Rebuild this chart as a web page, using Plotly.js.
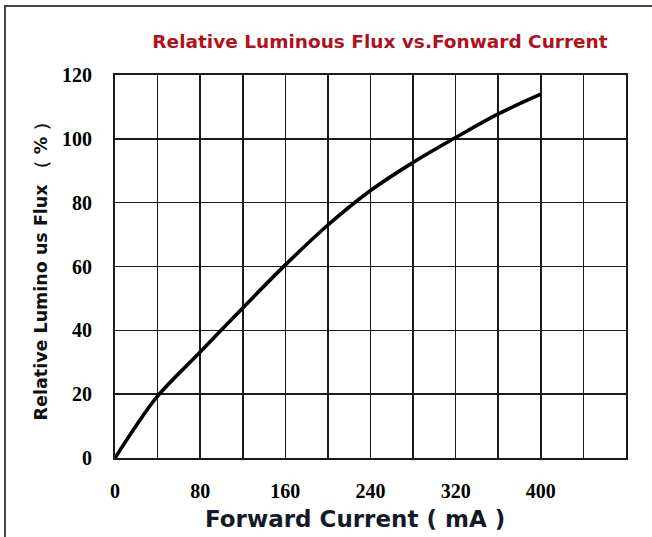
<!DOCTYPE html>
<html>
<head>
<meta charset="utf-8">
<script src="https://cdn.plot.ly/plotly-3.0.1.min.js"></script>
<style>
  html, body { margin: 0; padding: 0; background: #fff; }
  #wrap { position: relative; width: 652px; height: 537px; overflow: hidden; }
  #chart { width: 652px; height: 537px; }
  #frame { position: absolute; left: 4px; top: 5px; width: 700px; height: 600px;
           border-left: 2px solid #444; border-top: 2px solid #444; pointer-events: none; }
</style>
</head>
<body>
<div id="wrap">
  <div id="chart"></div>
  <div id="frame"></div>
</div>
<script>
// Forward current (mA)
var current = [0, 20, 40, 80, 120, 160, 200, 240, 280, 320, 360, 400];
// Relative luminous flux (%)
var flux = [0, 10.2, 19.4, 33.2, 47, 60.5, 73, 83.8, 92.6, 100.4, 107.8, 114];

var xTickVals = [0, 40, 80, 120, 160, 200, 240, 280, 320, 360, 400, 440, 480];
var xTickText = ['0', '', '80', '', '160', '', '240', '', '320', '', '400', '', ''];
var yTickVals = [0, 20, 40, 60, 80, 100, 120];

var trace = {
  x: current,
  y: flux,
  type: 'scatter',
  mode: 'lines',
  line: { color: '#000', width: 3.6, shape: 'spline', smoothing: 1.1 },
  hoverinfo: 'skip'
};

var tickFont = { family: 'Liberation Serif, Times New Roman, serif', size: 20, color: '#000', weight: 'bold' };

var layout = {
  width: 652,
  height: 537,
  margin: { l: 115, r: 26, t: 75, b: 79 },
  paper_bgcolor: 'rgba(0,0,0,0)',
  plot_bgcolor: '#fff',
  showlegend: false,
  title: {
    text: '<b>Relative Luminous Flux vs.Fonward Current</b>',
    font: { family: 'DejaVu Sans, Verdana, sans-serif', size: 18.5, color: '#b3101e' },
    xref: 'container', yref: 'container',
    x: 380 / 652, xanchor: 'center',
    y: 1 - 42 / 537, yanchor: 'middle'
  },
  xaxis: {
    range: [0, 480],
    tickmode: 'array',
    tickvals: xTickVals,
    ticktext: xTickText,
    ticks: '',
    ticklabelstandoff: 14,
    tickfont: tickFont,
    showgrid: true,
    gridcolor: '#1a1a1a',
    gridwidth: 1.6,
    zeroline: false,
    showline: true,
    mirror: true,
    linecolor: '#1a1a1a',
    linewidth: 2
  },
  yaxis: {
    range: [0, 120],
    tickmode: 'array',
    tickvals: yTickVals,
    ticks: '',
    ticklabelstandoff: 17,
    tickfont: tickFont,
    showgrid: true,
    gridcolor: '#1a1a1a',
    gridwidth: 1.6,
    zeroline: false,
    showline: true,
    mirror: true,
    linecolor: '#1a1a1a',
    linewidth: 2,
    title: {
      text: '<b>Relative Lumino us Flux （ % ）</b>',
      font: { family: 'DejaVu Sans, Verdana, sans-serif', size: 17.5, color: '#111' },
      standoff: 10
    }
  },
  annotations: [{
    text: '<b>Forward Current ( mA )</b>',
    xref: 'paper', yref: 'paper',
    x: (355 - 115) / 511, y: 0,
    xanchor: 'center', yanchor: 'middle',
    yshift: -61,
    showarrow: false,
    font: { family: 'DejaVu Sans, Verdana, sans-serif', size: 23, color: '#151a2a' }
  }]
};

Plotly.newPlot('chart', [trace], layout, { staticPlot: true, displayModeBar: false });
</script>
</body>
</html>
